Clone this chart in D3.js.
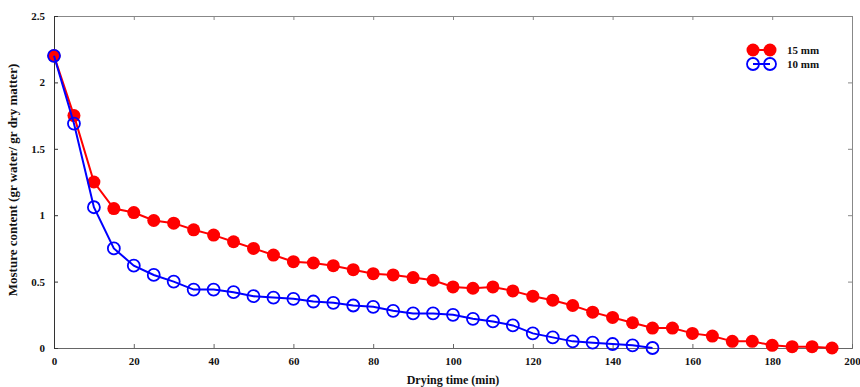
<!DOCTYPE html>
<html>
<head>
<meta charset="utf-8">
<script src="https://cdn.jsdelivr.net/npm/d3@7"></script>
<style>
  body { margin: 0; background: #fff; }
  text { font-family: "Liberation Serif", "DejaVu Serif", serif; font-weight: bold; }
</style>
</head>
<body>
<div id="chart"></div>
<script>
// drying time in minutes, every 5 min
var time15 = [0,5,10,15,20,25,30,35,40,45,50,55,60,65,70,75,80,85,90,95,100,105,110,115,120,125,130,135,140,145,150,155,160,165,170,175,180,185,190,195];
var moist15 = [2.2,1.75,1.25,1.05,1.02,0.96,0.94,0.89,0.85,0.80,0.75,0.70,0.65,0.64,0.62,0.59,0.56,0.55,0.53,0.51,0.46,0.45,0.46,0.43,0.39,0.36,0.32,0.27,0.23,0.19,0.15,0.15,0.11,0.09,0.05,0.05,0.02,0.01,0.01,0.0];
var time10 = [0,5,10,15,20,25,30,35,40,45,50,55,60,65,70,75,80,85,90,95,100,105,110,115,120,125,130,135,140,145,150];
var moist10 = [2.2,1.69,1.06,0.75,0.62,0.55,0.50,0.44,0.44,0.42,0.39,0.38,0.37,0.35,0.34,0.32,0.31,0.28,0.26,0.26,0.25,0.22,0.20,0.17,0.11,0.08,0.05,0.04,0.03,0.02,0.0];
var xTicks = [0,20,40,60,80,100,120,140,160,180,200];
var yTicks = [0,0.5,1,1.5,2,2.5];

var W = 860, H = 387;
var margin = {top: 16, right: 8, bottom: 39, left: 54};
var width = W - margin.left - margin.right,
    height = H - margin.top - margin.bottom;

var svg = d3.select("#chart").append("svg")
    .attr("width", W)
    .attr("height", H)
    .append("g")
    .attr("transform", "translate(" + margin.left + "," + margin.top + ")");

var xScale = d3.scaleLinear().domain([0, 200]).range([0, width]);
var yScale = d3.scaleLinear().domain([0, 2.5]).range([height, 0]);

// frame: top and right in grey, ticks pointing inward
svg.append("g").attr("class", "x axis top")
    .call(d3.axisTop(xScale).tickValues(xTicks).tickSize(-4).tickFormat(""))
    .call(function(g){ g.selectAll("path,line").attr("stroke", "#888"); });
svg.append("g").attr("class", "y axis right")
    .attr("transform", "translate(" + width + ",0)")
    .call(d3.axisRight(yScale).tickValues(yTicks).tickSize(-4).tickFormat(""))
    .call(function(g){ g.selectAll("path,line").attr("stroke", "#888"); });

var xAxis = svg.append("g").attr("class", "x axis")
    .attr("transform", "translate(0," + height + ")")
    .call(d3.axisBottom(xScale).tickValues(xTicks).tickSize(-4).tickPadding(9).tickFormat(d3.format("d")));
xAxis.selectAll("path,line").attr("stroke", "#666");
xAxis.selectAll("text").attr("font-size", 11).attr("fill", "#111")
    .style("font-family", "Liberation Serif").style("font-weight", "bold");

var yAxis = svg.append("g").attr("class", "y axis")
    .call(d3.axisLeft(yScale).tickValues(yTicks).tickSize(-4).tickPadding(9).tickFormat(function(d){ return d; }));
yAxis.selectAll("path,line").attr("stroke", "#333");
yAxis.selectAll("text").attr("font-size", 11).attr("fill", "#111")
    .style("font-family", "Liberation Serif").style("font-weight", "bold");

// axis titles
svg.append("text")
    .attr("text-anchor", "middle")
    .attr("x", width / 2)
    .attr("y", height + 36)
    .attr("font-size", 12)
    .attr("fill", "#111")
    .text("Drying time (min)");

svg.append("text")
    .attr("text-anchor", "middle")
    .attr("transform", "translate(-37," + (height / 2 - 2) + ") rotate(-90)")
    .attr("font-size", 13)
    .attr("fill", "#111")
    .text("Mosture content (gr water/ gr dry matter)");

var line = d3.line()
    .x(function(d) { return xScale(d[0]); })
    .y(function(d) { return yScale(d[1]); });

var data15 = d3.zip(time15, moist15);
var data10 = d3.zip(time10, moist10);

// 15 mm series, filled red markers
svg.append("path").datum(data15)
    .attr("d", line).attr("fill", "none")
    .attr("stroke", "#ff0000").attr("stroke-width", 2);
svg.selectAll(".p15").data(data15).enter().append("circle")
    .attr("class", "p15")
    .attr("cx", function(d){ return xScale(d[0]); })
    .attr("cy", function(d){ return yScale(d[1]); })
    .attr("r", 6.5)
    .attr("fill", "#ff0000");

// 10 mm series, open blue markers
svg.append("path").datum(data10)
    .attr("d", line).attr("fill", "none")
    .attr("stroke", "#0000ff").attr("stroke-width", 2);
svg.selectAll(".p10").data(data10).enter().append("circle")
    .attr("class", "p10")
    .attr("cx", function(d){ return xScale(d[0]); })
    .attr("cy", function(d){ return yScale(d[1]); })
    .attr("r", 6)
    .attr("fill", "none")
    .attr("stroke", "#0000ff")
    .attr("stroke-width", 1.8);

// legend
var legend = svg.append("g").attr("transform", "translate(" + (753 - margin.left) + "," + (50 - margin.top) + ")");
legend.append("line").attr("x1", 0).attr("x2", 17).attr("y1", 0).attr("y2", 0)
    .attr("stroke", "#ff0000").attr("stroke-width", 2);
legend.selectAll(".l15").data([0, 17]).enter().append("circle")
    .attr("cx", function(d){ return d; }).attr("cy", 0).attr("r", 6.5).attr("fill", "#ff0000");
legend.append("text").attr("x", 34).attr("y", 4).attr("font-size", 11).attr("fill", "#111").text("15 mm");

legend.append("line").attr("x1", 0).attr("x2", 17).attr("y1", 14).attr("y2", 14)
    .attr("stroke", "#0000ff").attr("stroke-width", 2);
legend.selectAll(".l10").data([0, 17]).enter().append("circle")
    .attr("cx", function(d){ return d; }).attr("cy", 14).attr("r", 6)
    .attr("fill", "none").attr("stroke", "#0000ff").attr("stroke-width", 1.8);
legend.append("text").attr("x", 34).attr("y", 18).attr("font-size", 11).attr("fill", "#111").text("10 mm");
</script>
</body>
</html>
